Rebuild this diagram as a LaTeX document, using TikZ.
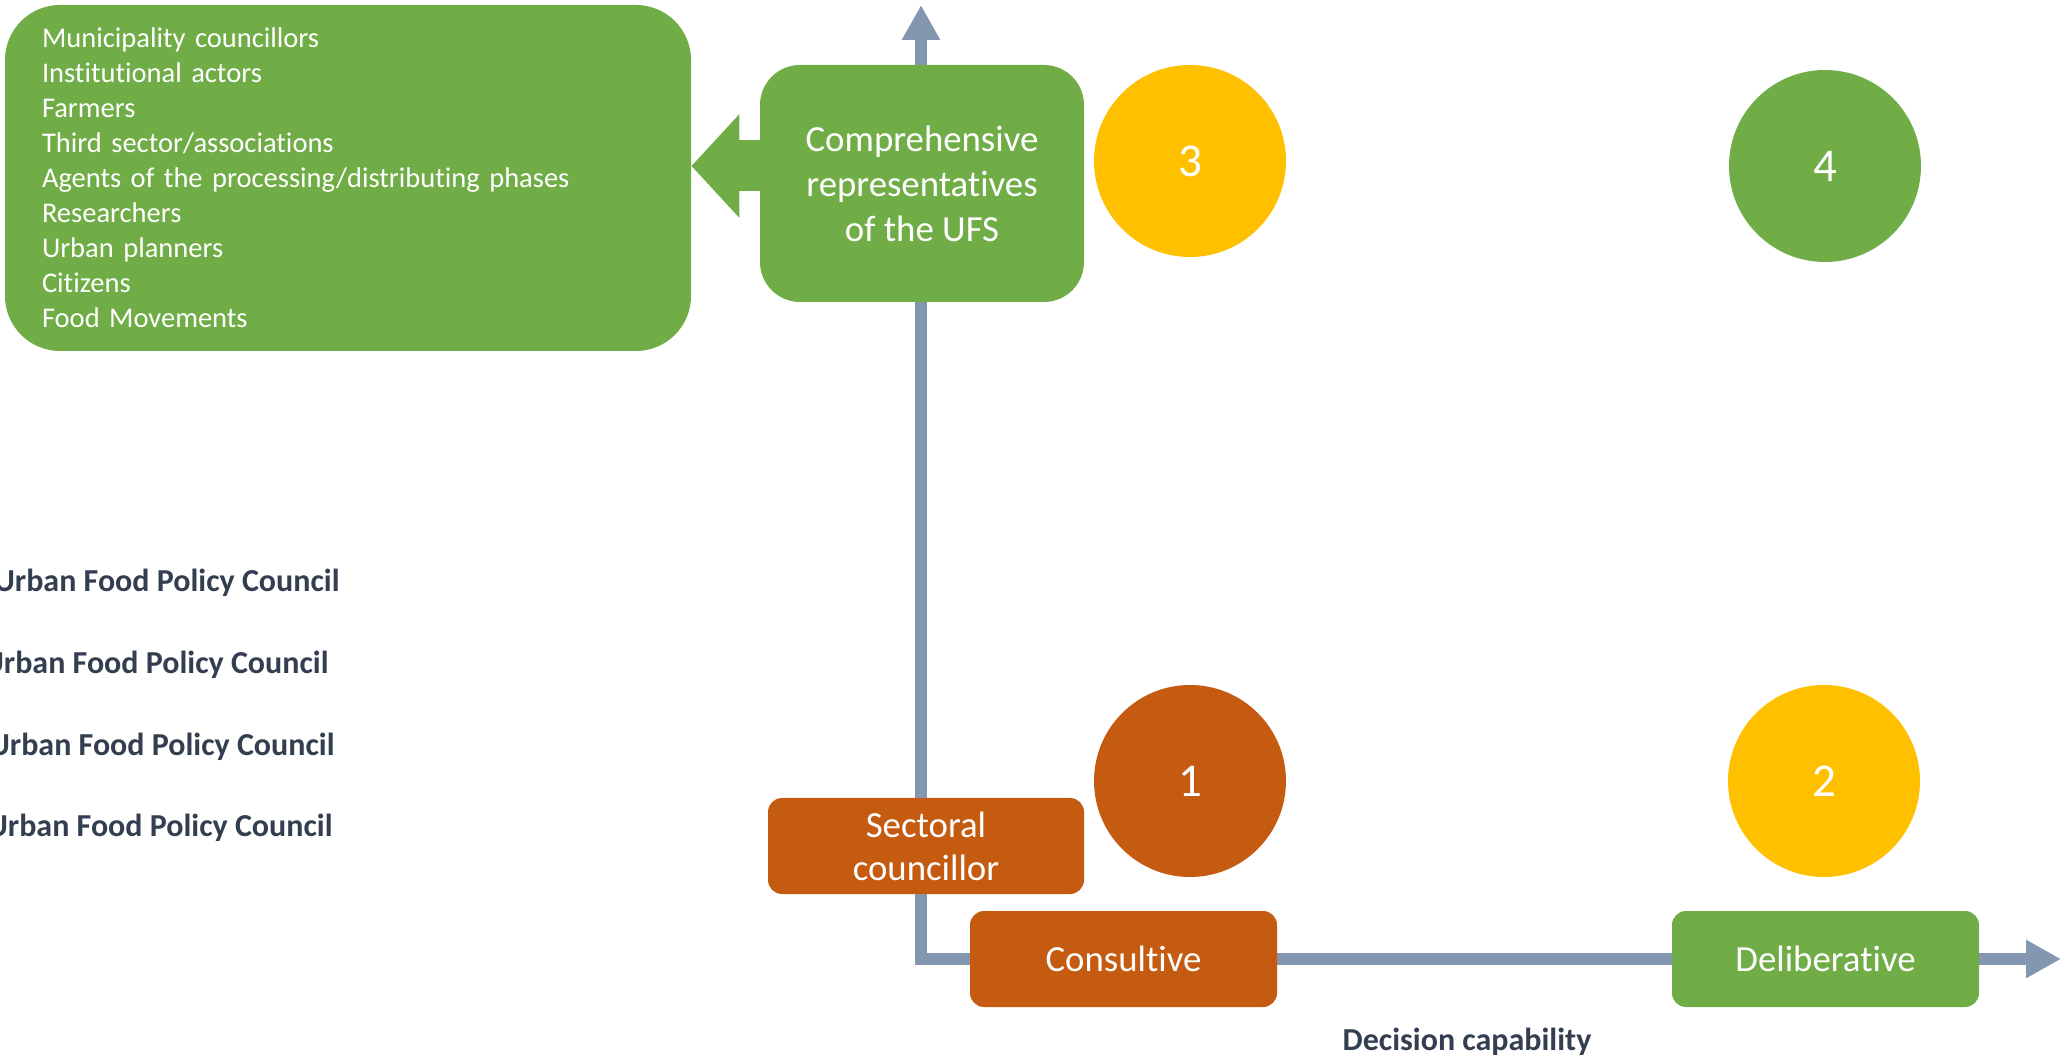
\documentclass[tikz,border=0pt]{standalone}
\usepackage{fontspec}
\setmainfont{Carlito}[Ligatures=NoCommon]
\usepackage{tikz}
\usetikzlibrary{arrows.meta}

\definecolor{ufsgreen}{HTML}{70AD47}
\definecolor{ufsyellow}{HTML}{FFC000}
\definecolor{ufsorange}{HTML}{C55A11}
\definecolor{axisblue}{HTML}{8497B0}
\definecolor{labelslate}{HTML}{333F50}

\tikzset{
  box/.style={rounded corners=7pt, inner sep=0pt, text=white, align=center,
    font=\fontsize{18.4}{21.5}\selectfont},
  level/.style={circle, inner sep=0pt, minimum size=96pt, text=white,
    font=\fontsize{23.5}{28}\selectfont},
  axislabel/.style={inner sep=0pt, text=labelslate,
    font=\bfseries\fontsize{16}{19}\selectfont},
}

\begin{document}
\begin{tikzpicture}[x=0.5pt,y=-0.5pt]
    \useasboundingbox (0,0) rectangle (2063,1058);

    % axes
    \coordinate (ytip) at (921,5);
    \coordinate (corner) at (921,959);
    \coordinate (xtip) at (2061,959);
    \draw[axisblue, line width=6pt, line join=miter,
      {Triangle[length=17.5pt,width=18pt]}-{Triangle[length=17.5pt,width=18pt]}]
      (ytip) -- (corner) -- (xtip);

    % who sits in the council
    \node[box, fill=ufsgreen, rounded corners=27.5pt, minimum height=173pt,
      text width=306pt, inner xsep=18.5pt, align=left,
      font=\fontsize{14.25}{17.5}\selectfont] (actors) at (348,178)
      {Municipality councillors\\Institutional actors\\Farmers\\Third sector/associations\\
       Agents of the processing/distributing phases\\Researchers\\Urban planners\\
       Citizens\\Food Movements};
    \node[box, fill=ufsgreen, rounded corners=20pt, minimum width=162pt,
      minimum height=118.5pt, font=\fontsize{18.4}{22.5}\selectfont] (ufs) at (922,183.5)
      {Comprehensive\\representatives\\of the UFS};
    \coordinate (armrow) at (0,166);
    \draw[ufsgreen, line width=25.5pt, -{Triangle[length=24pt,width=50.5pt]}]
      (ufs.west |- armrow) -- (actors.east |- armrow);
    \node[box, fill=ufsorange, minimum width=158pt, minimum height=48pt] (sectoral)
      at (926,846) {Sectoral\\councillor};

    % decision capability
    \node[box, fill=ufsorange, minimum width=153.5pt, minimum height=48pt] (consultive)
      at (1123.5,959) {Consultive};
    \node[box, fill=ufsgreen, minimum width=153.5pt, minimum height=48pt] (deliberative)
      at (1825.5,959) {Deliberative};

    % the four types
    \node[level, fill=ufsorange] (q1) at (1190,781) {1};
    \node[level, fill=ufsyellow] (q2) at (1824,781) {2};
    \node[level, fill=ufsyellow] (q3) at (1190,161) {3};
    \node[level, fill=ufsgreen] (q4) at (1825,166) {4};

    \node[axislabel, anchor=east] (council1) at (340,583) {Urban Food Policy Council};
    \node[axislabel, anchor=east] (council2) at (329,665) {Urban Food Policy Council};
    \node[axislabel, anchor=east] (council3) at (335,747) {Urban Food Policy Council};
    \node[axislabel, anchor=east] (council4) at (333,828) {Urban Food Policy Council};
    \node[axislabel] (decision) at (1467,1042) {Decision capability};
\end{tikzpicture}
\end{document}
